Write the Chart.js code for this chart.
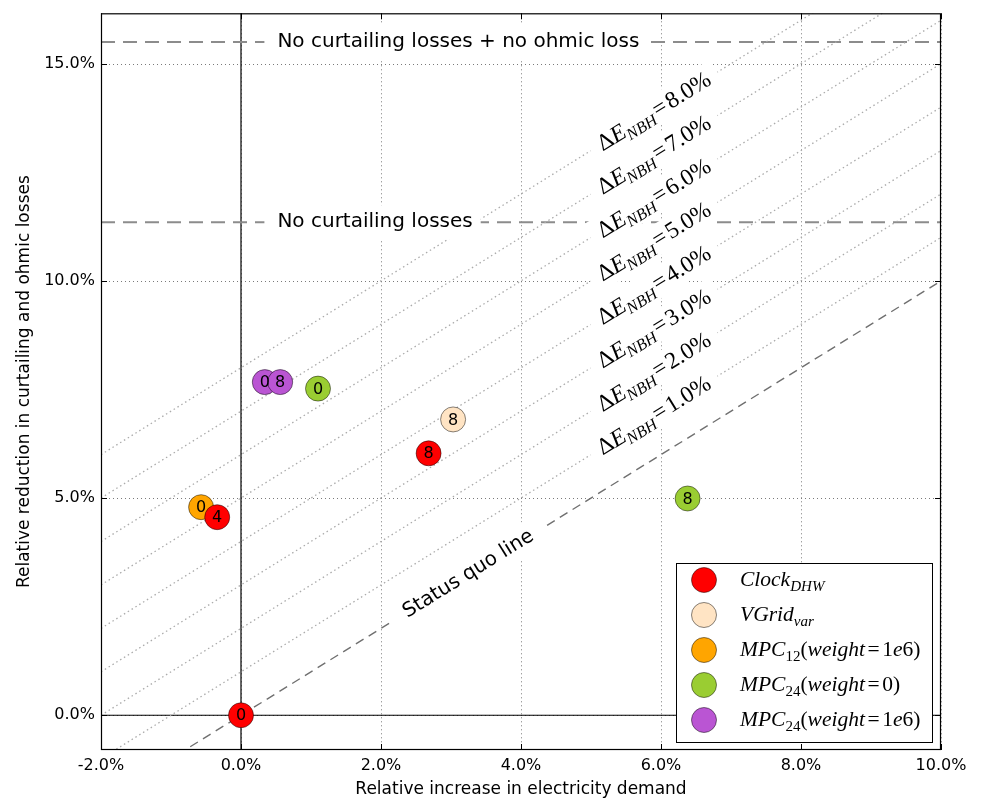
<!DOCTYPE html>
<html>
<head>
<meta charset="UTF-8">
<script src="https://cdn.jsdelivr.net/npm/chart.js@4"></script>
<style>
  html, body { margin: 0; padding: 0; background: #fff; }
  .chart-box { position: relative; width: 983px; height: 801px; }
</style>
</head>
<body>
<div class="chart-box"><canvas id="lossChart"></canvas></div>
<script>
// axis ranges and ticks (values in percent)
const xLimits = [-2, 10];
const yLimits = [-0.8, 16.16];
const xTicks = [-2, 0, 2, 4, 6, 8, 10];
const yTicks = [0, 5, 10, 15];

// x = relative increase in electricity demand, y = relative reduction in losses, tag = number inside the marker
const clockDHW = [{x: 0, y: 0, tag: '0'}, {x: -0.34, y: 4.56, tag: '4'}, {x: 2.68, y: 6.03, tag: '8'}];
const vgridVar = [{x: 3.03, y: 6.81, tag: '8'}];
const mpc12w1e6 = [{x: -0.57, y: 4.79, tag: '0'}];
const mpc24w0 = [{x: 1.10, y: 7.52, tag: '0'}, {x: 6.38, y: 4.99, tag: '8'}];
const mpc24w1e6 = [{x: 0.34, y: 7.67, tag: '0'}, {x: 0.56, y: 7.67, tag: '8'}];

// iso lines of neighbourhood energy change, parallel to the status quo line y = x
const isoOffsets = [1, 2, 3, 4, 5, 6, 7, 8];
const isoLabelX = 5.9;
const statusQuoLabelX = 3.25;

// horizontal reference levels
const noCurtailing = 11.35;
const noCurtailingNoOhmic = 15.5;
const refLabelX = 0.52;

const SANS = '"DejaVu Sans", sans-serif';
const SERIF = '"Liberation Serif", "DejaVu Serif", serif';

const series = [
  {data: clockDHW, color: '#ff0000', order: 1,
   name: [{t: 'Clock', it: 1}, {t: 'DHW', it: 1, sub: 1}]},
  {data: vgridVar, color: '#ffe4c4', order: 4,
   name: [{t: 'VGrid', it: 1}, {t: 'var', it: 1, sub: 1}]},
  {data: mpc12w1e6, color: '#ffa500', order: 3,
   name: [{t: 'MPC', it: 1}, {t: '12', sub: 1}, {t: '('}, {t: 'weight', it: 1}, {t: '=', pad: 0.12}, {t: '1'}, {t: 'e', it: 1}, {t: '6'}, {t: ')'}]},
  {data: mpc24w0, color: '#9acd32', order: 2,
   name: [{t: 'MPC', it: 1}, {t: '24', sub: 1}, {t: '('}, {t: 'weight', it: 1}, {t: '=', pad: 0.12}, {t: '0'}, {t: ')'}]},
  {data: mpc24w1e6, color: '#ba55d3', order: 0,
   name: [{t: 'MPC', it: 1}, {t: '24', sub: 1}, {t: '('}, {t: 'weight', it: 1}, {t: '=', pad: 0.12}, {t: '1'}, {t: 'e', it: 1}, {t: '6'}, {t: ')'}]}
];

function diagLine(k) {
  return [{x: xLimits[0], y: xLimits[0] + k}, {x: xLimits[1], y: xLimits[1] + k}];
}
function hLine(v) {
  return [{x: xLimits[0], y: v}, {x: xLimits[1], y: v}];
}

const lineBase = {showLine: true, pointRadius: 0, pointHoverRadius: 0, fill: false, order: 20};

const datasets = [];
series.forEach(s => {
  datasets.push({
    data: s.data,
    backgroundColor: s.color,
    borderColor: 'rgba(0,0,0,0.6)',
    borderWidth: 0.8,
    pointRadius: 12.5,
    pointHoverRadius: 12.5,
    order: s.order
  });
});
isoOffsets.forEach(k => {
  datasets.push(Object.assign({}, lineBase, {data: diagLine(k), borderColor: '#ababab', borderWidth: 1.3, borderDash: [1.5, 3]}));
});
datasets.push(Object.assign({}, lineBase, {data: diagLine(0), borderColor: '#707070', borderWidth: 1.4, borderDash: [9, 6]}));
datasets.push(Object.assign({}, lineBase, {data: hLine(noCurtailing), borderColor: '#8c8c8c', borderWidth: 2, borderDash: [14, 8]}));
datasets.push(Object.assign({}, lineBase, {data: hLine(noCurtailingNoOhmic), borderColor: '#8c8c8c', borderWidth: 2, borderDash: [14, 8]}));
datasets.push(Object.assign({}, lineBase, {data: hLine(0), borderColor: '#000', borderWidth: 1.2}));
datasets.push(Object.assign({}, lineBase, {data: [{x: 0, y: yLimits[0]}, {x: 0, y: yLimits[1]}], borderColor: '#000', borderWidth: 1.2}));

function fontFor(s, size) {
  return (s.it ? 'italic ' : '') + (s.sub ? size * 0.7 : size) + 'px ' + SERIF;
}
function mathWidth(ctx, segs, size) {
  let w = 0;
  segs.forEach(s => {
    ctx.font = fontFor(s, size);
    w += ctx.measureText(s.t).width + 2 * (s.pad || 0) * size;
  });
  return w;
}
function drawMath(ctx, segs, x, baseY, size) {
  let cx = x;
  ctx.textAlign = 'left';
  ctx.textBaseline = 'alphabetic';
  segs.forEach(s => {
    ctx.font = fontFor(s, size);
    cx += (s.pad || 0) * size;
    ctx.fillText(s.t, cx, baseY + (s.sub ? 0.22 * size : 0));
    cx += ctx.measureText(s.t).width + (s.pad || 0) * size;
  });
}

const decorations = {
  id: 'decorations',
  beforeDatasetsDraw(chart) {
    const {ctx, chartArea: a, scales: {x, y}} = chart;
    ctx.save();
    ctx.strokeStyle = '#7a7a7a';
    ctx.lineWidth = 1;
    ctx.setLineDash([1, 3]);
    xTicks.forEach(v => {
      const px = Math.round(x.getPixelForValue(v)) + 0.5;
      ctx.beginPath(); ctx.moveTo(px, a.top); ctx.lineTo(px, a.bottom); ctx.stroke();
    });
    yTicks.forEach(v => {
      const py = Math.round(y.getPixelForValue(v)) + 0.5;
      ctx.beginPath(); ctx.moveTo(a.left, py); ctx.lineTo(a.right, py); ctx.stroke();
    });
    ctx.restore();
  },
  afterDatasetsDraw(chart) {
    const {ctx, chartArea: a, scales: {x, y}} = chart;
    const angle = Math.atan2(y.getPixelForValue(1) - y.getPixelForValue(0), x.getPixelForValue(1) - x.getPixelForValue(0));

    ctx.save();
    ctx.beginPath();
    ctx.rect(a.left, a.top, a.right - a.left, a.bottom - a.top);
    ctx.clip();

    // horizontal reference labels
    ctx.font = '20px ' + SANS;
    [[noCurtailingNoOhmic, 'No curtailing losses + no ohmic loss'], [noCurtailing, 'No curtailing losses']].forEach(([lv, txt]) => {
      const px = x.getPixelForValue(refLabelX);
      const py = y.getPixelForValue(lv);
      const w = ctx.measureText(txt).width;
      ctx.fillStyle = '#fff';
      ctx.fillRect(px - 13, py - 17, w + 21, 34);
      ctx.fillStyle = '#000';
      ctx.textAlign = 'left';
      ctx.textBaseline = 'middle';
      ctx.fillText(txt, px, py);
    });

    // status quo label
    {
      const px = x.getPixelForValue(statusQuoLabelX);
      const py = y.getPixelForValue(statusQuoLabelX);
      ctx.save();
      ctx.translate(px, py);
      ctx.rotate(angle);
      ctx.font = '20px ' + SANS;
      const w = ctx.measureText('Status quo line').width;
      ctx.fillStyle = '#fff';
      ctx.fillRect(-w / 2 - 14, -16, w + 28, 32);
      ctx.fillStyle = '#000';
      ctx.textAlign = 'center';
      ctx.textBaseline = 'middle';
      ctx.fillText('Status quo line', 0, 0);
      ctx.restore();
    }

    // iso line labels
    const isoSize = 23.5;
    isoOffsets.forEach(k => {
      const segs = [{t: '\u0394'}, {t: 'E', it: 1}, {t: 'NBH', it: 1, sub: 1}, {t: '=', pad: 0.1}, {t: k.toFixed(1) + '%'}];
      const px = x.getPixelForValue(isoLabelX);
      const py = y.getPixelForValue(isoLabelX + k);
      ctx.save();
      ctx.translate(px, py);
      ctx.rotate(angle);
      const w = mathWidth(ctx, segs, isoSize);
      ctx.fillStyle = '#fff';
      ctx.fillRect(-w / 2 - 10, -15, w + 20, 30);
      ctx.fillStyle = '#000';
      drawMath(ctx, segs, -w / 2, isoSize * 0.3, isoSize);
      ctx.restore();
    });

    // numbers inside markers
    ctx.fillStyle = '#000';
    ctx.font = '16px ' + SANS;
    ctx.textAlign = 'center';
    ctx.textBaseline = 'middle';
    series.forEach(s => {
      s.data.forEach(p => {
        ctx.fillText(p.tag, x.getPixelForValue(p.x), y.getPixelForValue(p.y) + 1);
      });
    });
    ctx.restore();

    // frame and inward ticks
    ctx.save();
    ctx.strokeStyle = '#000';
    ctx.lineWidth = 1.2;
    ctx.strokeRect(a.left + 0.5, a.top + 0.5, a.right - a.left - 1, a.bottom - a.top - 1);
    ctx.lineWidth = 1;
    xTicks.forEach(v => {
      const px = Math.round(x.getPixelForValue(v)) + 0.5;
      ctx.beginPath();
      ctx.moveTo(px, a.bottom); ctx.lineTo(px, a.bottom - 6);
      ctx.moveTo(px, a.top); ctx.lineTo(px, a.top + 6);
      ctx.stroke();
    });
    yTicks.forEach(v => {
      const py = Math.round(y.getPixelForValue(v)) + 0.5;
      ctx.beginPath();
      ctx.moveTo(a.left, py); ctx.lineTo(a.left + 6, py);
      ctx.moveTo(a.right, py); ctx.lineTo(a.right - 6, py);
      ctx.stroke();
    });

    // legend
    const lx = a.right - 9 - 256, ly = a.bottom - 8 - 179;
    ctx.fillStyle = '#fff';
    ctx.fillRect(lx, ly, 256, 179);
    ctx.strokeStyle = '#000';
    ctx.lineWidth = 1;
    ctx.strokeRect(lx + 0.5, ly + 0.5, 256, 179);
    series.forEach((s, i) => {
      const cy = ly + 17 + i * 35;
      ctx.beginPath();
      ctx.arc(lx + 28, cy, 12.5, 0, Math.PI * 2);
      ctx.fillStyle = s.color;
      ctx.fill();
      ctx.strokeStyle = 'rgba(0,0,0,0.6)';
      ctx.lineWidth = 0.8;
      ctx.stroke();
      ctx.fillStyle = '#000';
      drawMath(ctx, s.name, lx + 64, cy + 6, 21.5);
    });
    ctx.restore();
  }
};

const pct = v => Number(v).toFixed(1) + '%';

new Chart(document.getElementById('lossChart'), {
  type: 'scatter',
  data: {datasets: datasets},
  options: {
    responsive: true,
    maintainAspectRatio: false,
    animation: false,
    events: [],
    layout: {padding: {left: 0, top: 7, right: 42, bottom: 0}},
    plugins: {legend: {display: false}, tooltip: {enabled: false}},
    scales: {
      x: {
        type: 'linear',
        min: xLimits[0],
        max: xLimits[1],
        afterBuildTicks: scale => { scale.ticks = xTicks.map(v => ({value: v})); },
        afterFit: scale => { scale.height = 51; },
        grid: {display: false, drawTicks: false},
        border: {display: false},
        ticks: {callback: pct, color: '#000', font: {family: SANS, size: 16}, padding: 6, maxRotation: 0, autoSkip: false},
        title: {display: true, text: 'Relative increase in electricity demand', color: '#000',
                font: {family: SANS, size: 17}, padding: {top: 0, bottom: 1}}
      },
      y: {
        type: 'linear',
        min: yLimits[0],
        max: yLimits[1],
        afterBuildTicks: scale => { scale.ticks = yTicks.map(v => ({value: v})); },
        afterFit: scale => { scale.width = 101; },
        grid: {display: false, drawTicks: false},
        border: {display: false},
        // tiny line height keeps the top label from pushing the plot area down
        ticks: {callback: pct, color: '#000', font: {family: SANS, size: 16, lineHeight: 0.1}, padding: 6, autoSkip: false},
        title: {display: true, text: 'Relative reduction in curtailing and ohmic losses', color: '#000',
                font: {family: SANS, size: 17}, padding: {top: 14, bottom: 0}}
      }
    }
  },
  plugins: [decorations]
});
</script>
</body>
</html>
